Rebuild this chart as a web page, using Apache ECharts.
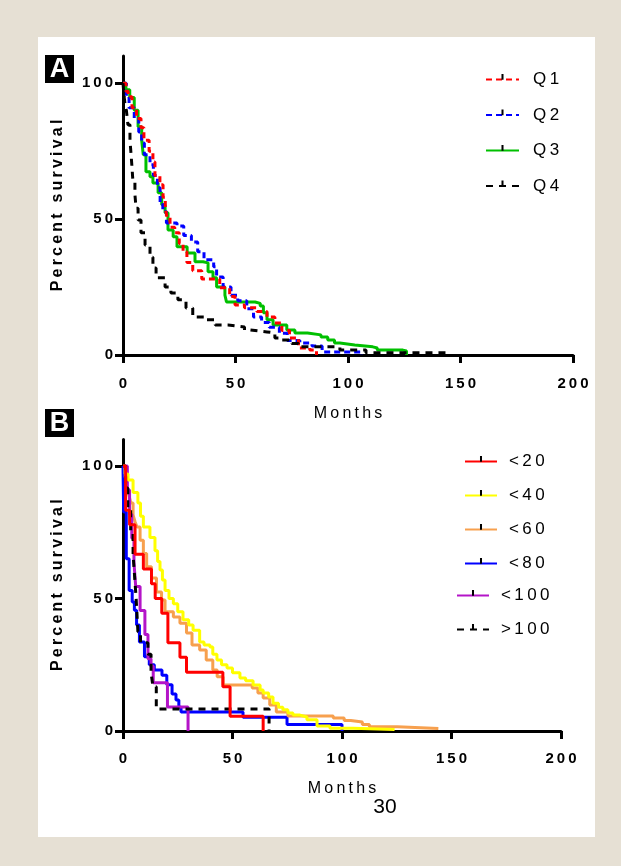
<!DOCTYPE html>
<html><head><meta charset="utf-8">
<script src="https://cdn.jsdelivr.net/npm/echarts@6/dist/echarts.min.js"></script>
<style>
html,body{margin:0;padding:0;background:#E6E0D4;width:621px;height:866px;overflow:hidden;}
#panel{position:absolute;left:38px;top:37px;width:557px;height:800px;background:#fff;}
#chart{position:absolute;left:0;top:0;width:621px;height:866px;}
</style></head><body>
<div id="panel"></div><div id="chart"></div>
<script>
const FONT = '"Liberation Sans", Arial, sans-serif';
const xTicks = [0, 50, 100, 150, 200];
const yTicks = [0, 50, 100];
const namesA = ['Q1', 'Q2', 'Q3', 'Q4'];
const namesB = ['<20', '<40', '<60', '<80', '<100', '>100'];

// Panel A: [months, percent survival]
const Q1 = [[0,100],[1.3,97],[2.3,95],[4,91],[6,87],[8,83.6],[9.3,79],[11.6,75],[13.3,71],[14.2,66],[16.4,62.6],[17.8,58],[18.8,54],[19.6,50.5],[20.9,47],[23,45],[25,41],[26.7,38],[28.4,34],[31,31],[35,28],[43,24.7],[47.4,21.5],[49.8,18.4],[54,17.4],[59.5,16],[64,14],[67.5,11.8],[70.6,9],[74,6.3],[78,2.6],[83,1.8],[86,0]];
const Q2 = [[0,100],[1.5,95],[2.7,91],[5,87],[7,82],[8.3,78],[9.5,73.7],[12,70],[13.5,66],[15.3,61.5],[16.5,56],[17.7,52.7],[19.3,48.6],[24,47.5],[27,44],[30.4,41.6],[33.2,38],[36,35],[40.3,32.5],[41.6,28.7],[44.5,25],[48,22],[51,20],[55,17],[58,14],[61.6,12],[65,10.2],[69.5,8],[73,5.3],[78.6,4.4],[84,3.3],[88.5,1.1],[106,0]];
const Q3 = [[0,100],[1.3,97.6],[3,94.7],[5,90],[6.7,84],[8.3,79],[9,73.7],[10.2,67.4],[12,65.6],[13.3,63.3],[15.6,59.7],[17.2,55.3],[18.7,52.3],[20,46],[22.3,43.5],[24,39.8],[28.5,37.5],[32,34.3],[35.6,33.9],[37.8,30.6],[40,28.4],[41.6,25],[45.3,22],[46,19.5],[58.7,19],[61,18],[62.4,15.5],[64,13],[66.7,11],[72.8,9.2],[76.4,8.1],[82,7.4],[88,6.6],[91,5.5],[94,4.4],[96.4,3.7],[103,3],[111,2.6],[113,1.8],[124.4,1.5],[126,0]];
const Q4 = [[0,100],[0.5,95],[1,91.7],[1.5,90],[2.2,84.7],[3.1,79],[3.6,73.7],[4,69],[4.4,64],[5.3,59],[5.8,54],[6.7,49.7],[8,45],[9.8,40.5],[12,36],[13.3,32],[14.7,28.4],[18.7,25],[21.3,22.8],[24.4,20.3],[28,17.3],[31,14],[37,13],[41,11],[46.7,10.3],[54,9.2],[56.4,8.5],[64,8.1],[67.5,6.3],[70.6,5.5],[75,4.2],[78,3],[96.4,1.8],[108,0.8],[144,0.8]];

// Panel B
const B20 = [[0,100],[1.2,83.3],[3,77.8],[5.5,66.7],[9.3,61.1],[13,55.6],[14.7,50],[17.7,44.4],[20.5,33.3],[26,27.8],[29,22.2],[45.6,16.7],[48.9,5.6],[64,0]];
const B40 = [[0,100],[1,97],[2.3,94.7],[4.6,90],[6.8,86],[8,81],[9.3,77],[12.3,73],[14.6,68],[15.8,64],[16.9,60.8],[18,57],[19.2,53],[21,50],[23,48],[25,45],[27.4,42],[30,40],[32,38],[35,33.6],[37,32.5],[39.7,31.7],[41,29],[42.9,26.8],[45,25],[47.5,23.8],[50,22],[53.4,20],[56,19],[59.4,17.4],[62.6,15.5],[64,14.3],[66.5,12.8],[68.5,10.5],[71,9],[73,8],[75.3,6.8],[77.6,6],[80.8,5.3],[84,4.2],[88.6,1.9],[94.5,1],[105,0.6],[124,0.6]];
const B60 = [[0,100],[1,96],[1.8,92],[2.7,89],[3.6,86],[4.6,81.5],[5.5,79],[6.4,77],[7.8,72],[9.3,67],[10.8,62],[13,57.7],[15.3,52.5],[17.6,49.4],[19.2,45],[23,43],[26,40.7],[29,37],[31.5,32.5],[35,30.6],[38,26.8],[41,23],[43,20.5],[45.7,17.4],[59,16.2],[61.6,14.3],[64,12.5],[67,9.8],[70,7.2],[75.3,5.7],[96,4.9],[101,4],[104,3.4],[109.3,2.5],[112.5,1.6],[125.3,0.9],[144,0.9]];
const B80 = [[0,100],[0.3,82.6],[1.5,65],[2.8,53],[4.2,48.7],[5.2,45.6],[6.2,40],[7.5,33.6],[9.8,28],[12,25],[14.3,23],[17.8,21],[20,17.5],[22.4,14],[24.2,11.7],[25.5,9],[26.5,7.2],[54.8,5.2],[74.9,2.5],[100,0]];
const B100 = [[0,100],[2,90.9],[3,81.8],[4,72.7],[5,63.6],[5.8,54.5],[7.8,45.5],[10,36.4],[11.4,27.3],[12.8,24.5],[13.8,18.2],[20.3,9.1],[29.7,0]];
const BG100 = [[0,100],[1.2,91.7],[2.2,83.3],[3.5,75],[4.6,66.7],[5.3,58.3],[6,50],[6.8,37.5],[8,33.3],[11.4,29],[12.8,22],[13.7,16.7],[15.2,8.3],[66.7,0]];

const sp = s => String(s).split('').join('\u2009');
const TICK = 'path://M0,0 L0.1,0 L0,0.1 Z M10,10 L9.9,10 L10,9.9 Z M4.1,0 L5.9,0 L5.9,5.2 L4.1,5.2 Z';

function km(name, data, color, dash, idx, z) {
  return {
    type: 'line', name: name, data: data, step: 'end',
    xAxisIndex: idx, yAxisIndex: idx, showSymbol: false,
    symbol: TICK, symbolSize: 10, z: z, silent: true, animation: false,
    lineStyle: { color: color, width: 3, type: dash },
    itemStyle: { color: color }
  };
}

function xAx(idx, gap, margin) {
  return {
    type: 'value', gridIndex: idx, min: 0, max: 200, interval: 50,
    name: sp('Months'), nameLocation: 'middle', nameGap: gap,
    nameTextStyle: { fontFamily: FONT, fontSize: 16, color: '#000' },
    axisLine: { onZero: false, lineStyle: { color: '#000', width: 3 } },
    axisTick: { length: 8, lineStyle: { color: '#000', width: 3 } },
    axisLabel: { margin: margin, fontFamily: FONT, fontSize: 15, fontWeight: 'bold', color: '#000', formatter: v => sp(v) },
    splitLine: { show: false }
  };
}
function yAx(idx) {
  return {
    type: 'value', gridIndex: idx, min: 0, max: 110,
    name: sp('Percent survival'), nameLocation: 'middle', nameGap: 57,
    nameTextStyle: { fontFamily: FONT, fontSize: 16, fontWeight: 'bold', color: '#000' },
    axisLine: { onZero: false, lineStyle: { color: '#000', width: 3 } },
    axisTick: { length: 8, customValues: yTicks, lineStyle: { color: '#000', width: 3 } },
    axisLabel: { margin: 10, customValues: yTicks, fontFamily: FONT, fontSize: 15, fontWeight: 'bold', color: '#000', formatter: v => sp(v) },
    splitLine: { show: false }
  };
}
function leg(data, left, top, w, gap, pad) {
  return {
    data: data, orient: 'vertical', left: left, top: top,
    itemWidth: w, itemHeight: 14, itemGap: gap, selectedMode: false,
    itemStyle: { color: '#000' },
    formatter: n => sp(n),
    textStyle: { fontFamily: FONT, fontSize: 17, color: '#000', padding: [0, 0, 0, pad] }
  };
}

const chart = echarts.init(document.getElementById('chart'), null, { renderer: 'canvas' });
chart.setOption({
  animation: false,
  grid: [
    { left: 123, top: 56, width: 450, height: 299 },
    { left: 123, top: 439.5, width: 438, height: 291.5 }
  ],
  xAxis: [xAx(0, 51, 21), xAx(1, 50, 20)],
  yAxis: [yAx(0), yAx(1)],
  legend: [
    leg(namesA, 480, 66, 33, 18.5, 9),
    leg(namesB.slice(0, 4), 459, 448, 32, 17, 7),
    leg(namesB.slice(4), 451, 582, 32, 17, 7)
  ],
  series: [
    km('Q1', Q1, '#FF0000', [6, 4], 0, 4),
    km('Q2', Q2, '#0000FF', [6, 4], 0, 3),
    km('Q3', Q3, '#00C000', 'solid', 0, 2),
    km('Q4', Q4, '#000000', [7, 6], 0, 5),
    km('<20', B20, '#FF0000', 'solid', 1, 6),
    km('<40', B40, '#FFFF00', 'solid', 1, 4),
    km('<60', B60, '#F7A04E', 'solid', 1, 3),
    km('<80', B80, '#0000FF', 'solid', 1, 2),
    km('<100', B100, '#B414C8', 'solid', 1, 3),
    km('>100', BG100, '#000000', [7, 6], 1, 5)
  ],
  graphic: [
    { type: 'rect', shape: { x: 45, y: 55, width: 29, height: 28 }, style: { fill: '#000' } },
    { type: 'text', x: 59.5, y: 70, style: { text: 'A', fill: '#fff', font: 'bold 27px ' + FONT, align: 'center', verticalAlign: 'middle' } },
    { type: 'rect', shape: { x: 45, y: 409, width: 29, height: 28 }, style: { fill: '#000' } },
    { type: 'text', x: 59.5, y: 424, style: { text: 'B', fill: '#fff', font: 'bold 27px ' + FONT, align: 'center', verticalAlign: 'middle' } },
    { type: 'text', x: 385, y: 807, style: { text: '30', fill: '#000', font: '21px ' + FONT, align: 'center', verticalAlign: 'middle' } }
  ]
});
</script>
</body></html>
